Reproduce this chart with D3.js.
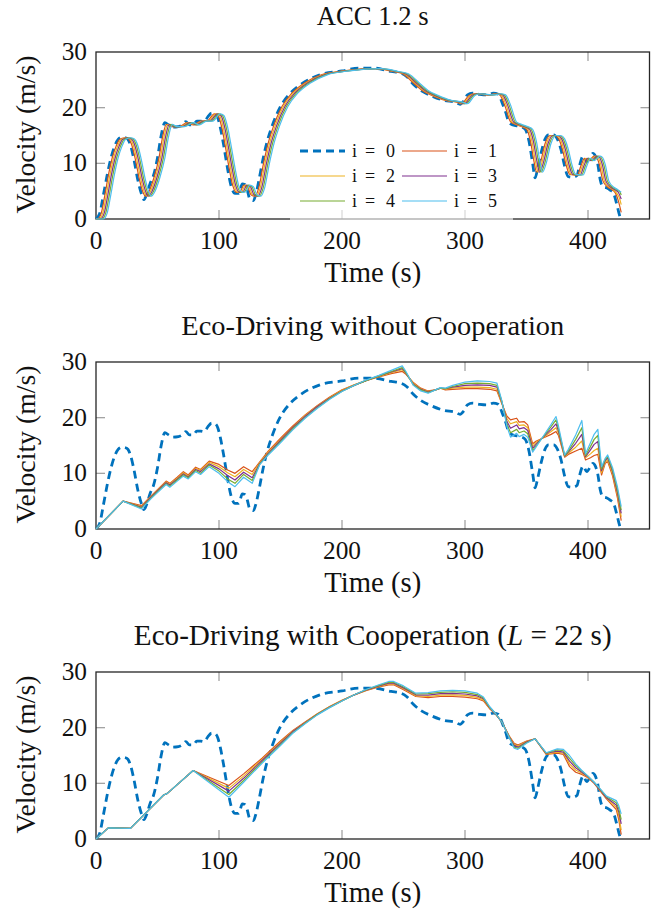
<!DOCTYPE html>
<html>
<head>
<meta charset="utf-8">
<script src="https://cdn.jsdelivr.net/npm/d3@7"></script>
<style>
  body { margin: 0; background: #fff; }
  svg { display: block; font-family: "Liberation Serif", "DejaVu Serif", serif; }
</style>
</head>
<body>
<div id="chart"></div>
<script>
// ---- data ----
const xTicks = [0, 100, 200, 300, 400];
const yTicks = [0, 10, 20, 30];
const legendIndex = ['0', '1', '2', '3', '4', '5'];   // legend reads "i = k"

// leading vehicle (i = 0), same in all panels
const leader = [[0,0],[3,1],[6,4.3],[9,7.8],[12,10.8],[15,13],[18,14.3],[21,14.7],[24,14.6],[26,14.3],[28,13.3],[31,10.5],[34,7],[37,4.5],[39,3.5],[41,4.3],[44,6.4],[47,8],[50,11],[53,15],[56,17.3],[59,16.9],[62,16.5],[67,16.6],[70,16.9],[73,17.5],[76,16.9],[79,16.9],[82,17.6],[85,17.6],[88,17.5],[91,18.4],[94,19],[97,18.9],[99,18.2],[101,16.5],[104,13],[107,9],[110,5.8],[113,4.6],[116,4.6],[119,6.3],[121,6.2],[123,5.2],[125,3.6],[128,3.3],[130,4.5],[133,7.6],[136,11],[139,13.8],[143,16.6],[150,20.2],[158,22.6],[168,24.4],[182,25.9],[200,26.6],[214,27.1],[226,27.1],[240,26.5],[248,26.2],[253,25.5],[258,24.2],[264,23.1],[272,22.2],[283,21.3],[292,21],[296,20.6],[299,21.2],[302,22.3],[306,22.6],[312,22.4],[318,22.3],[323,22.6],[327,22.4],[330,21],[333,19.2],[336,17.3],[339,16.9],[345,16.6],[349,16.1],[352,14],[355,10],[357,7.4],[359,9],[362,12],[365,14.3],[368,15.1],[372,15.1],[375,14.4],[378,12.5],[381,9.5],[384,7.6],[388,7.5],[391,7.8],[393,9.5],[396,11.3],[399,10.3],[402,11.2],[404,11.8],[406,11.3],[408,9.8],[410,7],[412,5.8],[415,5.6],[418,5.2],[421,4.5],[423,3],[425,1.2],[426.5,0]];

// ACC 1.2 s followers
const acc1 = [[0,0],[1.2,0],[4.2,1],[7.2,4.3],[10.2,8],[13.2,11],[16.2,13],[19.2,14.3],[23.2,14.6],[26.2,14.4],[29.2,13.2],[32.2,10.5],[35.2,7.2],[38.2,4.8],[40.2,4.1],[43.2,5],[47.2,7.5],[51.2,11],[54.2,14.8],[57.2,17],[61.2,16.6],[67.2,16.6],[74.2,17.3],[79.2,16.9],[85.2,17.6],[90.2,17.6],[96.2,18.9],[99.2,18.6],[102.2,16.5],[105.2,13],[108.2,9.2],[111.2,6],[114.2,4.8],[117.2,4.9],[120.2,6.1],[123.2,5.8],[126.2,4.3],[129.2,4.1],[132.2,5.5],[136.2,10],[140.2,13.8],[144.2,16.6],[151.2,20.2],[159.2,22.6],[169.2,24.4],[183.2,25.9],[201.2,26.6],[227.2,27],[241.2,26.5],[249.2,26.1],[259.2,24.2],[265.2,23.1],[273.2,22.2],[284.2,21.3],[293.2,21],[297.2,20.7],[303.2,22.2],[307.2,22.5],[319.2,22.3],[324.2,22.5],[328.2,22.3],[332.2,20.5],[337.2,17.4],[341.2,17],[346.2,16.6],[350.2,16.1],[353.2,14],[356.2,10.2],[358.2,8.4],[361.2,10],[365.2,13.6],[369.2,15],[373.2,15],[376.2,14.4],[379.2,12.5],[382.2,9.7],[385.2,8],[391.2,7.9],[394.2,9.5],[397.2,10.9],[400.2,10.5],[405.2,11.3],[407.2,11],[409.2,9.8],[412.2,6.8],[416.2,5.7],[419.2,5.3],[422.2,4.7],[424.5,3.4],[427,1.2]];
const acc2 = [[0,0],[2.4,0],[5.4,1],[8.4,4.3],[11.4,8],[14.4,11],[17.4,13],[20.4,14.3],[24.4,14.6],[27.4,14.4],[30.4,13.2],[33.4,10.5],[36.4,7.2],[39.4,4.8],[41.4,4.1],[44.4,5],[48.4,7.5],[52.4,11],[55.4,14.8],[58.4,17],[62.4,16.6],[68.4,16.6],[75.4,17.3],[80.4,16.9],[86.4,17.6],[91.4,17.6],[97.4,18.9],[100.4,18.6],[103.4,16.5],[106.4,13],[109.4,9.2],[112.4,6],[115.4,4.8],[118.4,4.9],[121.4,6.1],[124.4,5.8],[127.4,4.3],[130.4,4.1],[133.4,5.5],[137.4,10],[141.4,13.8],[145.4,16.6],[152.4,20.2],[160.4,22.6],[170.4,24.4],[184.4,25.9],[202.4,26.6],[228.4,27],[242.4,26.5],[250.4,26.1],[260.4,24.2],[266.4,23.1],[274.4,22.2],[285.4,21.3],[294.4,21],[298.4,20.7],[304.4,22.2],[308.4,22.5],[320.4,22.3],[325.4,22.5],[329.4,22.3],[333.4,20.5],[338.4,17.4],[342.4,17],[347.4,16.6],[351.4,16.1],[354.4,14],[357.4,10.2],[359.4,8.4],[362.4,10],[366.4,13.6],[370.4,15],[374.4,15],[377.4,14.4],[380.4,12.5],[383.4,9.7],[386.4,8],[392.4,7.9],[395.4,9.5],[398.4,10.9],[401.4,10.5],[406.4,11.3],[408.4,11],[410.4,9.8],[413.4,6.8],[417.4,5.7],[420.4,5.3],[423.4,4.6],[425.5,3.8],[427,2.6]];
const acc3 = [[0,0],[3.6,0],[6.6,1],[9.6,4.3],[12.6,8],[15.6,11],[18.6,13],[21.6,14.3],[25.6,14.6],[28.6,14.4],[31.6,13.2],[34.6,10.5],[37.6,7.2],[40.6,4.8],[42.6,4.1],[45.6,5],[49.6,7.5],[53.6,11],[56.6,14.8],[59.6,17],[63.6,16.6],[69.6,16.6],[76.6,17.3],[81.6,16.9],[87.6,17.6],[92.6,17.6],[98.6,18.9],[101.6,18.6],[104.6,16.5],[107.6,13],[110.6,9.2],[113.6,6],[116.6,4.8],[119.6,4.9],[122.6,6.1],[125.6,5.8],[128.6,4.3],[131.6,4.1],[134.6,5.5],[138.6,10],[142.6,13.8],[146.6,16.6],[153.6,20.2],[161.6,22.6],[171.6,24.4],[185.6,25.9],[203.6,26.6],[229.6,27],[243.6,26.5],[251.6,26.1],[261.6,24.2],[267.6,23.1],[275.6,22.2],[286.6,21.3],[295.6,21],[299.6,20.7],[305.6,22.2],[309.6,22.5],[321.6,22.3],[326.6,22.5],[330.6,22.3],[334.6,20.5],[339.6,17.4],[343.6,17],[348.6,16.6],[352.6,16.1],[355.6,14],[358.6,10.2],[360.6,8.4],[363.6,10],[367.6,13.6],[371.6,15],[375.6,15],[378.6,14.4],[381.6,12.5],[384.6,9.7],[387.6,8],[393.6,7.9],[396.6,9.5],[399.6,10.9],[402.6,10.5],[407.6,11.3],[409.6,11],[411.6,9.8],[414.6,6.8],[418.6,5.7],[421.6,5.3],[424.6,4.8],[427,3.6]];
const acc4 = [[0,0],[4.8,0],[7.8,1],[10.8,4.3],[13.8,8],[16.8,11],[19.8,13],[22.8,14.3],[26.8,14.6],[29.8,14.4],[32.8,13.2],[35.8,10.5],[38.8,7.2],[41.8,4.8],[43.8,4.1],[46.8,5],[50.8,7.5],[54.8,11],[57.8,14.8],[60.8,17],[64.8,16.6],[70.8,16.6],[77.8,17.3],[82.8,16.9],[88.8,17.6],[93.8,17.6],[99.8,18.9],[102.8,18.6],[105.8,16.5],[108.8,13],[111.8,9.2],[114.8,6],[117.8,4.8],[120.8,4.9],[123.8,6.1],[126.8,5.8],[129.8,4.3],[132.8,4.1],[135.8,5.5],[139.8,10],[143.8,13.8],[147.8,16.6],[154.8,20.2],[162.8,22.6],[172.8,24.4],[186.8,25.9],[204.8,26.6],[230.8,27],[244.8,26.5],[252.8,26.1],[262.8,24.2],[268.8,23.1],[276.8,22.2],[287.8,21.3],[296.8,21],[300.8,20.7],[306.8,22.2],[310.8,22.5],[322.8,22.3],[327.8,22.5],[331.8,22.3],[335.8,20.5],[340.8,17.4],[344.8,17],[349.8,16.6],[353.8,16.1],[356.8,14],[359.8,10.2],[361.8,8.4],[364.8,10],[368.8,13.6],[372.8,15],[376.8,15],[379.8,14.4],[382.8,12.5],[385.8,9.7],[388.8,8],[394.8,7.9],[397.8,9.5],[400.8,10.9],[403.8,10.5],[408.8,11.3],[410.8,11],[412.8,9.8],[415.8,6.8],[419.8,5.7],[422.8,5.3],[425.8,4.9],[427,4.3]];
const acc5 = [[0,0],[6,0],[9,1],[12,4.3],[15,8],[18,11],[21,13],[24,14.3],[28,14.6],[31,14.4],[34,13.2],[37,10.5],[40,7.2],[43,4.8],[45,4.1],[48,5],[52,7.5],[56,11],[59,14.8],[62,17],[66,16.6],[72,16.6],[79,17.3],[84,16.9],[90,17.6],[95,17.6],[101,18.9],[104,18.6],[107,16.5],[110,13],[113,9.2],[116,6],[119,4.8],[122,4.9],[125,6.1],[128,5.8],[131,4.3],[134,4.1],[137,5.5],[141,10],[145,13.8],[149,16.6],[156,20.2],[164,22.6],[174,24.4],[188,25.9],[206,26.6],[232,27],[246,26.5],[254,26.1],[264,24.2],[270,23.1],[278,22.2],[289,21.3],[298,21],[302,20.7],[308,22.2],[312,22.5],[324,22.3],[329,22.5],[333,22.3],[337,20.5],[342,17.4],[346,17],[351,16.6],[355,16.1],[358,14],[361,10.2],[363,8.4],[366,10],[370,13.6],[374,15],[378,15],[381,14.4],[384,12.5],[387,9.7],[390,8],[396,7.9],[399,9.5],[402,10.9],[405,10.5],[410,11.3],[412,11],[414,9.8],[417,6.8],[421,5.7],[424,5.3],[427,4.8]];

// Eco-driving without cooperation (shared time stamps)
const ecoTime = [0,22,37,45,57,60,66,71,75,81,85,92,100,107,113,120,127,133,140,150,160,170,180,190,200,210,220,230,240,249,252,258,264,270,276,280,284,290,300,310,320,326,330,334,337,342,344,348,351,355,358,364,370,374,376,381,384,390,395,398,402,405,408,411,414,416,420,424,427];
const eco1 = [0,5,4.2,6,8.6,8.2,9.3,10.3,9.7,11.1,10.7,12.2,11.6,10.6,10,11.2,10.3,12,14,16.3,18.5,20.5,22.2,23.7,25,25.9,26.7,27.3,27.9,28.3,27.8,26.3,25.3,24.8,25,25.3,25,25.1,25.2,25.2,25.1,24.8,22.5,20.3,19.6,19.9,19.2,19.3,18.7,15.3,15.8,16.4,17,17.5,16.8,12.9,13.4,14,14.5,12.4,12.8,13.2,13.4,9.7,11.8,12.1,9.5,5.5,1.5];
const eco2 = [0,5,4.05,5.9,8.45,8.05,9.1,10.1,9.5,10.9,10.5,12,11.2,10.1,9.4,10.7,9.8,11.9,13.8,16.1,18.3,20.4,22.1,23.6,24.9,25.9,26.7,27.4,28.1,28.6,27.9,26.2,25.2,24.7,25,25.3,25.1,25.3,25.5,25.5,25.4,25.1,22.6,19.9,18.9,19.3,18.6,18.7,18.2,14.9,15.6,16.5,17.5,18.2,17.2,13,13.6,14.7,15.8,12.8,13.5,14.1,14.5,10.1,12,12.4,9.9,6,2.2];
const eco3 = [0,5,3.9,5.8,8.3,7.9,8.95,9.9,9.35,10.7,10.3,11.7,10.8,9.6,8.8,10.2,9.2,11.7,13.6,15.9,18.2,20.2,22,23.5,24.8,25.8,26.7,27.5,28.2,28.8,28,26,25.1,24.6,25,25.3,25.2,25.5,25.8,25.9,25.8,25.5,22.8,19.4,18.1,18.7,18,18.2,17.7,14.5,15.3,16.6,17.9,18.9,17.6,13.1,13.8,15.4,17,13,14.2,15.2,15.7,10.5,12.3,12.8,10.3,6.5,2.8];
const eco4 = [0,5,3.75,5.65,8.15,7.7,8.8,9.7,9.2,10.5,10,11.5,10.4,9,8.2,9.8,8.7,11.6,13.4,15.7,18,20,21.8,23.4,24.75,25.8,26.7,27.5,28.3,29,28.1,25.9,25,24.5,25,25.3,25.2,25.6,26.1,26.2,26.1,25.8,22.9,18.9,17.3,17.9,17.3,17.6,17.1,14.1,15,16.7,18.4,19.6,18,13.2,14,16.1,18.2,13.2,14.8,16.1,16.8,10.8,12.5,13,10.6,7,3.4];
const eco5 = [0,5,3.6,5.5,8,7.5,8.6,9.5,9,10.3,9.8,11.2,10,8.5,7.6,9.3,8.2,11.5,13.3,15.5,17.8,19.9,21.7,23.3,24.7,25.8,26.8,27.6,28.5,29.3,28.3,25.8,24.8,24.4,25,25.4,25.3,25.8,26.4,26.6,26.5,26.2,23,18.5,16.5,17.2,16.6,17,16.5,13.8,14.8,16.8,18.8,20.2,18.5,13.3,14.3,16.9,19.5,13.5,15.5,17,17.9,11.2,12.7,13.3,11,7.5,4];

// Eco-driving with cooperation (L = 22 s)
const coopTime = [0,10,28,55,58,79,108,120,135,150,160,170,180,190,200,210,220,230,238,242,250,260,270,280,290,300,310,315,320,325,330,336,340,343,350,357,366,375,380,385,390,395,400,405,410,415,420,423,425,427];
const coop1 = [0,2,1.9,7.9,8.2,12.3,9.6,11.7,14.5,17.6,19.5,21,22.5,23.8,24.9,25.9,26.7,27.3,27.7,27.7,26.8,25.6,25.4,25.6,25.6,25.5,25.2,24.8,23.4,22.4,21,18.5,17.2,16.9,17.6,18,15.2,15.4,15.2,13,12,11.6,11,10,8.6,7.2,6,5.3,3.5,0.8];
const coop2 = [0,2,1.9,7.9,8.2,12.3,9.1,11.3,14.3,17.4,19.4,20.9,22.5,23.8,24.9,25.9,26.75,27.4,27.85,27.85,27,25.75,25.6,25.85,25.9,25.8,25.45,25,23.5,22.4,21,18.4,17,16.7,17.5,18,15.3,15.6,15.4,13.5,12.4,11.8,11.1,10.1,8.7,7.3,6.3,5.7,4.2,1.6];
const coop3 = [0,2,1.9,7.9,8.2,12.3,8.6,10.9,14.1,17.2,19.3,20.85,22.4,23.7,24.85,25.9,26.8,27.5,28,28,27.15,25.9,25.85,26.1,26.15,26.05,25.7,25.2,23.6,22.45,21,18.3,16.8,16.5,17.4,18,15.4,15.8,15.6,14,12.8,12,11.2,10.1,8.8,7.4,6.6,6.1,4.9,2.7];
const coop4 = [0,2,1.9,7.9,8.2,12.3,8,10.5,13.8,17,19.1,20.8,22.35,23.65,24.8,25.9,26.85,27.6,28.15,28.15,27.3,26.05,26.1,26.35,26.45,26.35,25.95,25.35,23.7,22.5,21,18.25,16.5,16.3,17.3,18,15.45,16,15.85,14.5,13.2,12.2,11.3,10.2,8.9,7.6,6.9,6.5,5.5,3.5];
const coop5 = [0,2,1.9,7.9,8.2,12.3,7.5,10.2,13.6,16.8,19,20.7,22.3,23.6,24.8,25.9,26.9,27.7,28.3,28.3,27.5,26.2,26.3,26.6,26.7,26.6,26.2,25.5,23.8,22.5,21,18.2,16.3,16.1,17.2,18,15.5,16.2,16.1,15,13.5,12.3,11.3,10.2,9,7.7,7.2,6.9,6,4.5];

// ---- styling ----
const colors = ['#0072BD', '#D95319', '#EDB120', '#7E2F8E', '#77AC30', '#4DBEEE'];
const W = 656, H = 913;
const left = 96, plotW = 553.5, plotH = 167;
const panelTops = [52, 362, 672];

const svg = d3.select('#chart').append('svg')
  .attr('width', W).attr('height', H)
  .attr('viewBox', `0 0 ${W} ${H}`);

const x = d3.scaleLinear().domain([0, 450]).range([0, plotW]);
const y = d3.scaleLinear().domain([0, 30]).range([plotH, 0]);

// scale a text's font size so that it spans the given width
function fitWidth(sel, target) {
  const w = sel.node().getComputedTextLength();
  const fs = +sel.attr('font-size');
  const size = fs * target / w;
  sel.attr('font-size', size);
  return size;
}

// tick font size measured once against the reference width of "400"
const probe = svg.append('text').attr('font-size', 20).text('400');
const tickSize = fitWidth(probe, 38);
probe.remove();

const panels = [
  { title: ['ACC 1.2 s'], titleW: 112, smooth: true, legend: true,
    series: [leader, acc1, acc2, acc3, acc4, acc5] },
  { title: ['Eco-Driving without Cooperation'], titleW: 383, smooth: false,
    series: [leader].concat([eco1, eco2, eco3, eco4, eco5].map(v => d3.zip(ecoTime, v))) },
  { title: ['Eco-Driving with Cooperation (', 'L', ' = 22 s)'], titleW: 478, smooth: false,
    series: [leader].concat([coop1, coop2, coop3, coop4, coop5].map(v => d3.zip(coopTime, v))) }
];

panels.forEach((p, k) => {
  const g = svg.append('g').attr('transform', `translate(${left},${panelTops[k]})`);

  // Title
  const title = g.append('text')
    .attr('x', plotW / 2).attr('y', -27.5)
    .attr('text-anchor', 'middle')
    .attr('font-size', 22)
    .attr('fill', '#111');
  p.title.forEach((s, j) => {
    title.append('tspan').attr('font-style', j === 1 ? 'italic' : null).text(s);
  });
  fitWidth(title, p.titleW);

  // Inner tick marks (gray, MATLAB style)
  const tickLen = 9;
  const ticks = g.append('g').attr('stroke', '#a3a3a3').attr('stroke-width', 1.3);
  xTicks.filter(t => t > 0).forEach(t => {
    ticks.append('line').attr('x1', x(t)).attr('x2', x(t)).attr('y1', plotH).attr('y2', plotH - tickLen);
    ticks.append('line').attr('x1', x(t)).attr('x2', x(t)).attr('y1', 0).attr('y2', tickLen);
  });
  yTicks.filter(v => v > 0 && v < 30).forEach(v => {
    ticks.append('line').attr('x1', 0).attr('x2', tickLen).attr('y1', y(v)).attr('y2', y(v));
    ticks.append('line').attr('x1', plotW).attr('x2', plotW - tickLen).attr('y1', y(v)).attr('y2', y(v));
  });

  // Frame
  g.append('rect')
    .attr('width', plotW).attr('height', plotH)
    .attr('fill', 'none').attr('stroke', '#262626').attr('stroke-width', 1.3);

  // Tick labels
  g.selectAll('.xl').data(xTicks).enter().append('text')
    .attr('x', d => x(d)).attr('y', plotH + 30)
    .attr('text-anchor', 'middle').attr('font-size', tickSize).attr('fill', '#111')
    .text(d => d);
  g.selectAll('.yl').data(yTicks).enter().append('text')
    .attr('x', -9).attr('y', d => y(d) + 8)
    .attr('text-anchor', 'end').attr('font-size', tickSize).attr('fill', '#111')
    .text(d => d);

  // Axis labels
  const xl = g.append('text')
    .attr('x', plotW / 2).attr('y', plotH + 63)
    .attr('text-anchor', 'middle').attr('font-size', 24).attr('fill', '#111')
    .text('Time (s)');
  fitWidth(xl, 97);
  const yl = g.append('text')
    .attr('transform', `translate(${35 - left},${plotH / 2 - 1}) rotate(-90)`)
    .attr('text-anchor', 'middle').attr('font-size', 24).attr('fill', '#111')
    .text('Velocity (m/s)');
  fitWidth(yl, 158);

  // Lines
  p.series.forEach((data, i) => {
    const line = d3.line()
      .x(d => x(d[0])).y(d => y(d[1]))
      .curve(i === 0 || p.smooth ? d3.curveMonotoneX : d3.curveLinear);
    g.append('path')
      .datum(data)
      .attr('d', line)
      .attr('fill', 'none')
      .attr('stroke', colors[i])
      .attr('stroke-width', i === 0 ? 2.8 : 1.2)
      .attr('stroke-dasharray', i === 0 ? '8,5' : null)
      .attr('stroke-linejoin', 'round');
  });

  // Legend (first panel only), math-style spacing "i = k"
  if (p.legend) {
    const lg = g.append('g').attr('transform', `translate(${290 - left},0)`);
    lg.append('rect')
      .attr('x', 0).attr('y', 82).attr('width', 223).attr('height', 86)
      .attr('fill', '#fff').attr('opacity', 0.6);
    legendIndex.forEach((k, i) => {
      const col = i % 2, row = Math.floor(i / 2);
      const lx = 10 + col * 102, ly = 99 + row * 25;
      lg.append('line')
        .attr('x1', lx).attr('x2', lx + 45).attr('y1', ly).attr('y2', ly)
        .attr('stroke', colors[i])
        .attr('stroke-width', i === 0 ? 2.8 : 1.2)
        .attr('stroke-dasharray', i === 0 ? '8,5' : null);
      const tx = lx + 52;
      const lt = lg.append('g').attr('font-size', 18).attr('fill', '#111');
      lt.append('text').attr('x', tx).attr('y', ly + 6).text('i');
      lt.append('text').attr('x', tx + 18).attr('y', ly + 6).attr('text-anchor', 'middle').text('=');
      lt.append('text').attr('x', tx + 43).attr('y', ly + 6).attr('text-anchor', 'end').text(k);
    });
  }
});
</script>
</body>
</html>
